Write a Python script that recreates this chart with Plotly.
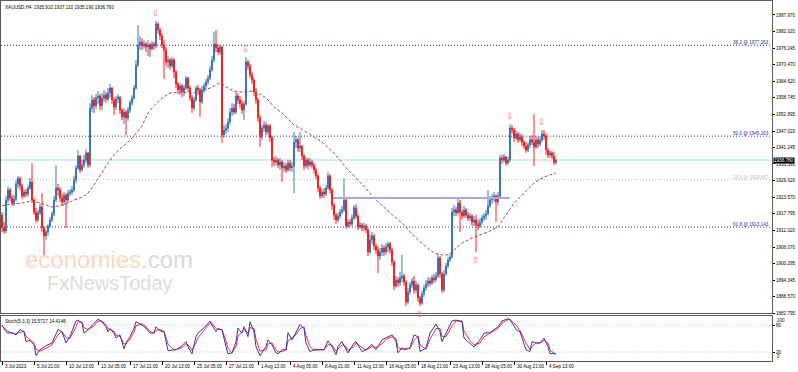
import plotly.graph_objects as go

# ---------------- data ----------------
symbol_header = "XAUUSD,H4  1935.910 1937.110 1935.190 1936.760"
stoch_header = "Stoch(5,3,3) 15.5717 14.4146"

first_open = 1917.4
closes = [
    1912.8, 1911.7, 1922.7, 1926.2, 1923.4, 1921.6, 1923.0, 1928.3, 1930.4, 1927.6, 1924.1, 1925.5, 1924.8, 1926.9, 1929.0, 1922.7,
    1918.4, 1915.6, 1918.1, 1920.2, 1912.8, 1910.0, 1911.4, 1913.5, 1915.6, 1917.7, 1922.7, 1926.9, 1926.2, 1923.4, 1922.0, 1924.4,
    1922.7, 1925.1, 1925.5, 1926.2, 1929.7, 1934.0, 1938.2, 1933.3, 1935.0, 1936.8, 1939.3, 1935.0, 1955.1, 1958.0, 1955.9, 1958.7,
    1959.4, 1955.9, 1958.7, 1959.7, 1958.3, 1960.4, 1962.2, 1958.0, 1955.5, 1958.3, 1959.0, 1954.4, 1952.0, 1953.7, 1951.6, 1954.4,
    1956.9, 1958.7, 1962.2, 1970.3, 1977.4, 1978.4, 1977.0, 1977.7, 1976.7, 1977.4, 1976.0, 1977.7, 1977.0, 1984.8, 1982.7, 1980.6,
    1977.4, 1975.6, 1971.4, 1972.1, 1970.0, 1972.1, 1967.9, 1963.6, 1961.5, 1962.9, 1960.8, 1962.2, 1965.7, 1962.2, 1958.7, 1955.1,
    1958.0, 1962.2, 1961.5, 1957.3, 1961.5, 1962.9, 1964.3, 1965.7, 1968.6, 1972.1, 1977.7, 1976.3, 1974.9, 1976.7, 1945.6, 1947.4,
    1948.1, 1950.2, 1953.7, 1955.1, 1953.7, 1959.4, 1958.0, 1956.6, 1954.4, 1956.6, 1971.4, 1970.0, 1966.8, 1965.0, 1960.8, 1958.0,
    1951.6, 1944.9, 1948.1, 1949.1, 1946.7, 1948.8, 1944.6, 1936.8, 1936.1, 1936.8, 1935.0, 1936.1, 1934.0, 1934.7, 1933.3, 1935.7,
    1934.0, 1934.7, 1943.1, 1943.9, 1941.0, 1941.7, 1938.2, 1934.7, 1936.8, 1935.0, 1936.1, 1935.0, 1933.3, 1931.2, 1926.9, 1924.1,
    1925.5, 1924.8, 1926.9, 1931.2, 1926.2, 1920.9, 1917.4, 1915.6, 1917.0, 1918.4, 1919.2, 1922.7, 1913.5, 1914.9, 1914.2, 1916.3,
    1919.9, 1917.0, 1913.2, 1913.9, 1912.8, 1913.5, 1912.1, 1904.3, 1908.6, 1910.0, 1906.4, 1905.0, 1902.9, 1904.3, 1905.7, 1904.3,
    1906.1, 1907.2, 1905.0, 1900.8, 1892.3, 1894.5, 1893.4, 1895.2, 1895.9, 1893.7, 1886.7, 1890.2, 1892.7, 1894.1, 1890.9, 1892.7,
    1888.1, 1886.3, 1889.5, 1891.6, 1893.0, 1894.1, 1893.4, 1895.2, 1894.5, 1895.9, 1902.2, 1896.6, 1890.9, 1896.6, 1899.4, 1901.5,
    1902.6, 1918.4, 1919.2, 1918.1, 1921.6, 1918.4, 1917.0, 1919.2, 1917.4, 1916.3, 1917.0, 1914.9, 1915.6, 1913.9, 1913.5, 1914.9,
    1916.3, 1917.0, 1917.7, 1920.6, 1922.7, 1923.4, 1924.1, 1922.0, 1924.1, 1937.5, 1936.8, 1937.9, 1935.7, 1936.8, 1948.1, 1947.4,
    1944.6, 1946.0, 1943.9, 1944.9, 1943.1, 1941.7, 1940.3, 1942.1, 1943.9, 1943.1, 1941.4, 1943.9, 1942.4, 1943.9, 1946.0, 1945.3,
    1940.3, 1938.6, 1939.3, 1938.2, 1935.91, 1936.76,
]
highs = [
    1918.4, 1914.9, 1924.1, 1927.6, 1926.9, 1924.4, 1924.4, 1929.7, 1931.2, 1930.8, 1928.3, 1926.6, 1926.6, 1928.0, 1930.4, 1935.7,
    1923.4, 1919.9, 1919.2, 1921.3, 1925.1, 1913.5, 1912.1, 1914.2, 1916.7, 1918.8, 1924.1, 1935.0, 1928.3, 1927.3, 1925.1, 1925.5,
    1925.1, 1926.2, 1926.6, 1927.6, 1931.2, 1935.0, 1940.3, 1938.6, 1936.8, 1938.6, 1940.7, 1939.6, 1956.9, 1959.7, 1959.0, 1960.1,
    1961.1, 1960.1, 1960.4, 1961.5, 1960.8, 1962.2, 1963.6, 1962.6, 1959.0, 1959.4, 1960.1, 1959.4, 1955.1, 1955.1, 1954.4, 1955.5,
    1958.0, 1959.7, 1963.3, 1972.1, 1984.4, 1980.6, 1979.8, 1979.1, 1978.4, 1979.1, 1978.1, 1978.8, 1978.4, 1985.9, 1985.5, 1983.4,
    1981.6, 1979.1, 1976.7, 1973.5, 1972.8, 1973.1, 1972.8, 1968.6, 1964.3, 1964.0, 1963.6, 1963.3, 1966.4, 1966.1, 1962.9, 1959.7,
    1959.0, 1962.9, 1963.3, 1962.2, 1962.9, 1964.0, 1965.4, 1966.8, 1970.0, 1973.5, 1982.0, 1982.7, 1977.7, 1977.4, 1977.0, 1949.1,
    1949.5, 1951.6, 1955.1, 1956.9, 1956.6, 1960.8, 1960.4, 1959.4, 1958.0, 1957.6, 1973.1, 1972.1, 1970.7, 1967.9, 1965.7, 1962.2,
    1958.7, 1952.7, 1949.1, 1950.6, 1950.2, 1949.5, 1949.5, 1945.3, 1937.9, 1938.2, 1937.5, 1937.5, 1936.8, 1936.1, 1935.7, 1936.8,
    1936.8, 1936.1, 1946.7, 1945.3, 1944.6, 1946.7, 1942.1, 1938.9, 1937.9, 1937.5, 1937.5, 1936.8, 1935.7, 1934.0, 1931.9, 1927.6,
    1926.6, 1926.9, 1928.0, 1932.6, 1931.9, 1926.9, 1921.6, 1918.1, 1918.1, 1919.5, 1920.6, 1930.4, 1923.4, 1916.0, 1916.0, 1917.4,
    1920.9, 1921.3, 1917.7, 1914.9, 1914.6, 1914.6, 1914.2, 1912.8, 1910.7, 1911.4, 1910.7, 1907.2, 1906.4, 1905.7, 1907.2, 1906.8,
    1907.5, 1907.9, 1907.9, 1905.7, 1901.5, 1895.9, 1895.5, 1897.3, 1903.3, 1896.6, 1894.5, 1891.6, 1893.7, 1895.2, 1895.9, 1894.1,
    1893.4, 1888.8, 1890.6, 1892.7, 1894.5, 1895.5, 1895.2, 1896.2, 1896.6, 1897.3, 1903.6, 1902.9, 1897.3, 1898.0, 1900.5, 1902.6,
    1903.6, 1919.9, 1920.9, 1920.2, 1923.4, 1922.7, 1919.2, 1920.6, 1919.9, 1918.4, 1918.1, 1917.7, 1917.0, 1917.4, 1915.6, 1916.3,
    1917.4, 1918.1, 1919.2, 1926.2, 1924.1, 1924.8, 1925.5, 1924.8, 1925.5, 1938.6, 1938.6, 1938.9, 1938.2, 1937.9, 1949.5, 1949.1,
    1948.1, 1947.4, 1946.7, 1946.3, 1946.0, 1943.9, 1943.1, 1943.1, 1945.3, 1945.6, 1953.0, 1945.3, 1944.9, 1945.3, 1947.4, 1947.4,
    1946.0, 1941.0, 1940.3, 1940.0, 1939.6, 1937.11,
]
lows = [
    1911.4, 1910.7, 1911.0, 1921.6, 1922.3, 1920.6, 1920.6, 1922.3, 1926.9, 1926.2, 1923.0, 1923.4, 1923.7, 1923.7, 1926.2, 1921.6,
    1917.4, 1914.6, 1914.9, 1917.4, 1911.4, 1903.3, 1908.6, 1910.0, 1912.8, 1914.9, 1917.0, 1922.0, 1924.1, 1922.0, 1920.9, 1920.9,
    1912.8, 1921.6, 1924.1, 1924.4, 1925.5, 1928.7, 1933.3, 1932.2, 1932.6, 1934.0, 1935.7, 1934.0, 1934.3, 1953.7, 1953.4, 1954.8,
    1956.6, 1954.4, 1954.4, 1957.3, 1956.9, 1957.6, 1958.7, 1956.6, 1952.7, 1954.4, 1956.9, 1953.0, 1950.9, 1949.5, 1945.6, 1950.6,
    1953.4, 1955.9, 1958.0, 1961.5, 1969.6, 1975.6, 1975.6, 1976.0, 1974.9, 1973.5, 1973.1, 1975.6, 1975.6, 1976.3, 1981.3, 1979.1,
    1976.3, 1965.4, 1970.0, 1969.3, 1968.6, 1969.3, 1965.7, 1962.2, 1960.1, 1959.7, 1959.0, 1959.4, 1961.5, 1960.8, 1957.6, 1953.4,
    1954.4, 1957.3, 1959.7, 1952.0, 1956.6, 1960.4, 1961.5, 1963.3, 1965.0, 1967.9, 1971.4, 1974.9, 1973.9, 1973.9, 1942.8, 1944.6,
    1946.0, 1946.7, 1949.1, 1952.3, 1952.7, 1953.0, 1956.6, 1955.1, 1953.0, 1950.9, 1955.9, 1968.6, 1965.7, 1963.6, 1959.4, 1956.6,
    1950.2, 1941.4, 1943.9, 1946.7, 1945.6, 1945.6, 1943.1, 1934.3, 1934.7, 1935.0, 1934.0, 1933.3, 1929.0, 1932.6, 1932.2, 1932.6,
    1932.9, 1932.6, 1925.1, 1941.0, 1939.6, 1939.6, 1936.8, 1933.3, 1934.0, 1933.6, 1934.3, 1934.0, 1931.9, 1930.1, 1925.5, 1923.0,
    1923.4, 1923.4, 1924.1, 1926.2, 1924.8, 1919.2, 1915.6, 1914.2, 1914.9, 1916.0, 1917.7, 1918.4, 1912.5, 1912.8, 1913.2, 1913.5,
    1915.6, 1916.0, 1912.1, 1912.5, 1911.7, 1911.7, 1911.0, 1902.9, 1903.6, 1907.2, 1905.0, 1903.6, 1896.9, 1901.5, 1902.9, 1902.9,
    1903.3, 1904.3, 1903.6, 1899.4, 1890.9, 1891.6, 1892.0, 1892.3, 1893.7, 1892.3, 1885.3, 1886.0, 1889.2, 1891.6, 1889.5, 1889.9,
    1886.7, 1885.3, 1885.6, 1888.5, 1890.6, 1892.0, 1892.3, 1892.7, 1893.4, 1893.7, 1895.2, 1895.2, 1889.9, 1890.2, 1895.9, 1898.7,
    1900.8, 1901.9, 1917.0, 1917.0, 1917.7, 1911.4, 1915.6, 1916.3, 1916.3, 1915.3, 1915.3, 1913.5, 1913.5, 1904.3, 1912.1, 1912.8,
    1913.9, 1915.3, 1915.6, 1917.4, 1919.9, 1921.3, 1922.0, 1914.9, 1920.9, 1923.4, 1935.4, 1936.1, 1934.7, 1935.0, 1936.1, 1946.0,
    1943.1, 1943.9, 1942.8, 1943.1, 1941.7, 1940.7, 1939.3, 1939.6, 1941.0, 1942.1, 1934.7, 1940.7, 1941.0, 1941.7, 1943.1, 1943.9,
    1938.6, 1937.5, 1937.5, 1937.1, 1935.0, 1935.19,
]
opens = [first_open] + closes[:-1]

# moving average, by bar index
ma_idx = [0, 5, 10, 15, 19, 25, 31, 36, 40, 43, 46, 50, 53, 56, 60, 63, 66, 70, 73, 76, 80, 84, 90, 95, 100,
          104, 107, 109, 113, 116, 120, 126, 130, 133, 136, 140, 146, 153, 160, 166, 173, 180, 186, 193, 200,
          206, 212, 216, 220, 223, 226, 230, 236, 243, 248, 251, 256, 261, 266, 271, 276, 277]
ma_val = [1920.6, 1921.3, 1921.6, 1922.3, 1921.6, 1920.2, 1920.9, 1922.7, 1923.7, 1925.1, 1928.0, 1932.6, 1935.7,
          1938.6, 1941.4, 1943.1, 1945.3, 1948.8, 1953.4, 1955.9, 1958.7, 1960.4, 1960.8, 1960.4, 1961.1, 1962.2,
          1963.3, 1964.0, 1962.2, 1961.1, 1960.8, 1961.1, 1959.7, 1958.0, 1955.5, 1953.4, 1949.1, 1946.3, 1943.1,
          1939.3, 1933.3, 1928.3, 1923.4, 1918.8, 1914.6, 1910.0, 1906.1, 1904.0, 1903.3, 1903.3, 1905.0, 1907.5,
          1909.6, 1911.4, 1913.2, 1916.3, 1921.6, 1925.1, 1928.7, 1930.8, 1931.9, 1932.2]

# stochastic oscillator (5,3,3)
st_idx = [0, 2, 3, 5, 7, 9, 11, 12, 14, 16, 17, 19, 22, 25, 28, 30, 32, 34, 37, 38, 40, 41, 43, 46, 48, 50, 52, 53,
          54, 56, 57, 59, 61, 62, 64, 66, 67, 70, 72, 74, 76, 77, 79, 81, 83, 85, 87, 90, 92, 93, 95, 97, 98, 102,
          104, 105, 107, 108, 110, 112, 113, 115, 117, 118, 120, 121, 123, 124, 126, 127, 129, 132, 133, 135, 137,
          138, 140, 142, 143, 145, 147, 149, 151, 152, 154, 156, 158, 161, 163, 165, 167, 168, 170, 172, 173, 176,
          177, 180, 182, 185, 187, 190, 192, 195, 197, 198, 200, 201, 204, 206, 208, 209, 212, 214, 217, 219, 220,
          222, 225, 227, 230, 231, 234, 236, 239, 241, 244, 248, 250, 253, 254, 257, 259, 262, 264, 265, 267, 269,
          271, 273, 274, 276, 277]
st_k = [80, 65, 62, 63, 58, 70, 65, 43, 46, 36, 12, 25, 34, 40, 70, 65, 40, 55, 89, 91, 84, 62, 69, 84, 93, 87, 76, 65,
        72, 62, 51, 58, 27, 40, 54, 73, 87, 80, 73, 62, 62, 76, 67, 65, 23, 24, 25, 34, 43, 32, 16, 54, 62, 78,
        89, 80, 65, 72, 69, 32, 16, 18, 42, 73, 62, 76, 54, 87, 65, 32, 12, 32, 47, 36, 18,
        16, 25, 25, 63, 47, 65, 81, 72, 40, 21, 25, 26, 25, 45, 32, 14, 32, 43, 25, 18, 40,
        43, 21, 25, 37, 25, 47, 51, 58, 43, 18, 30, 25, 29, 58, 54, 21, 29, 62, 82, 65, 43,
        62, 89, 91, 87, 51, 40, 31, 47, 62, 63, 76, 89, 94, 92, 70, 65, 25, 21, 43, 40, 40,
        51, 32, 16, 17, 15.57]
st_d = [78, 70, 66, 62, 60, 64, 66, 55, 48, 40, 26, 22, 28, 36, 58, 66, 52, 50, 76, 86, 87, 74, 70, 78, 89, 89, 80, 72,
        70, 66, 57, 55, 38, 38, 48, 64, 78, 83, 76, 66, 62, 68, 70, 66, 38, 28, 25, 30, 38, 36, 24, 40, 52, 72,
        84, 84, 72, 70, 70, 45, 28, 18, 32, 55, 66, 70, 62, 74, 72, 48, 22, 25, 38, 40, 26,
        20, 21, 24, 45, 52, 58, 72, 76, 56, 32, 24, 25, 25, 36, 36, 22, 26, 36, 32, 24, 32,
        40, 30, 24, 32, 30, 38, 48, 54, 50, 30, 26, 27, 28, 45, 55, 36, 26, 48, 72, 72, 55,
        54, 78, 89, 89, 66, 46, 36, 40, 54, 62, 72, 84, 92, 92, 80, 68, 40, 26, 32, 40, 40,
        46, 40, 24, 17, 14.41]
st_levels = [20, 80]

# Fibonacci retracement levels
fib_names = ["38.2", "50.0", "23.6", "61.8"]
fib_values = [1977.263, 1945.203, 1929.887, 1913.143]
fib_colors = ["#2a2a9c", "#2a2a9c", "#bdbdbd", "#2a2a9c"]

# horizontal trend segment (bar index start/end, price)
seg_start, seg_end, seg_price = 165.5, 254, 1923.4

# fractals
frac_up_idx = [77, 122, 254, 270]
frac_dn_idx = [209, 237]

# axis ticks
price_ticks = [1987.970, 1982.020, 1976.245, 1970.470, 1964.620, 1958.745, 1952.895, 1947.020, 1941.245,
               1935.395, 1929.620, 1923.570, 1917.795, 1912.020, 1906.070, 1900.295, 1894.345, 1888.570, 1882.795]
date_idx = [0, 16, 32, 48, 64, 80, 96, 112, 128, 144, 160, 176, 192, 208, 224, 240, 256, 272]
date_labels = ["3 Jul 2023", "5 Jul 21:00", "10 Jul 13:00", "13 Jul 05:00", "17 Jul 21:00", "20 Jul 13:00",
               "25 Jul 05:00", "27 Jul 21:00", "1 Aug 13:00", "4 Aug 05:00", "8 Aug 21:00", "11 Aug 13:00",
               "16 Aug 05:00", "18 Aug 21:00", "23 Aug 13:00", "28 Aug 05:00", "30 Aug 21:00", "4 Sep 13:00"]
last_price = closes[-1]

# ---------------- figure ----------------
FONT = "Liberation Sans"
SMALL = 4.6
UP = "#3a76b6"
DN = "#ff1c1c"
bars = list(range(len(closes)))

fig = go.Figure()
fig.add_trace(go.Candlestick(
    x=bars, open=opens, high=highs, low=lows, close=closes,
    increasing=dict(line=dict(color=UP, width=1), fillcolor=UP),
    decreasing=dict(line=dict(color=DN, width=1), fillcolor=DN),
    whiskerwidth=0, xaxis="x", yaxis="y", hoverinfo="skip"))
fig.add_trace(go.Scatter(x=ma_idx, y=ma_val, mode="lines", xaxis="x", yaxis="y",
                         line=dict(color="#a8453c", width=1, dash="3px,2px"), hoverinfo="skip"))
fig.add_trace(go.Scatter(x=st_idx, y=st_d, mode="lines", xaxis="x2", yaxis="y2",
                         line=dict(color="#ff2a2a", width=1), hoverinfo="skip"))
fig.add_trace(go.Scatter(x=st_idx, y=st_k, mode="lines", xaxis="x2", yaxis="y2",
                         line=dict(color="#3535a8", width=1), hoverinfo="skip"))

shapes = []
shapes.append(dict(type="line", xref="paper", x0=0, x1=1, yref="y", y0=last_price, y1=last_price,
                   line=dict(color="#d5ebf4", width=2), layer="below"))
for v, c in zip(fib_values, fib_colors):
    shapes.append(dict(type="line", xref="paper", x0=0, x1=1, yref="y", y0=v, y1=v,
                       line=dict(color=c, width=1, dash="1px,2px"), layer="below"))
shapes.append(dict(type="line", xref="x", x0=seg_start, x1=seg_end, yref="y", y0=seg_price, y1=seg_price,
                   line=dict(color="#a9a9dc", width=2), layer="above"))
for lv in st_levels:
    shapes.append(dict(type="line", xref="paper", x0=0, x1=1, yref="y2", y0=lv, y1=lv,
                       line=dict(color="#c4c4c4", width=1, dash="1px,2px"), layer="below"))

ann = []
ann.append(dict(xref="paper", yref="paper", x=0, y=1, xanchor="left", yanchor="top", xshift=2, yshift=-2,
                text=symbol_header, showarrow=False, font=dict(family=FONT, size=SMALL, color="#000")))
ann.append(dict(xref="paper", yref="y2", x=0, y=100, xanchor="left", yanchor="top", xshift=2, yshift=-1,
                text=stoch_header, showarrow=False, font=dict(family=FONT, size=SMALL, color="#000")))
for nm, v, c in zip(fib_names, fib_values, fib_colors):
    ann.append(dict(xref="paper", yref="y", x=1, y=v, xanchor="right", yanchor="bottom", xshift=-1, yshift=-2,
                    text=f"{nm} @ {v:.3f}", showarrow=False, font=dict(family=FONT, size=SMALL, color=c)))
ann.append(dict(xref="paper", yref="y", x=1, y=last_price, xanchor="left", yanchor="middle", xshift=1,
                text=f"{last_price:.3f}", showarrow=False, bgcolor="#000", borderpad=0,
                font=dict(family=FONT, size=SMALL, color="#fff")))
ann.append(dict(xref="paper", yref="y2", x=1, y=100, xanchor="left", yanchor="top", xshift=3,
                text="100", showarrow=False, font=dict(family=FONT, size=SMALL, color="#000")))
ann.append(dict(xref="paper", yref="y2", x=1, y=0, xanchor="left", yanchor="bottom", xshift=3,
                text="0", showarrow=False, font=dict(family=FONT, size=SMALL, color="#000")))
for i, t in zip(date_idx, date_labels):
    ann.append(dict(xref="x2", yref="paper", x=i, y=0, xanchor="left", yanchor="top", xshift=1, yshift=-1,
                    text=t, showarrow=False, font=dict(family=FONT, size=SMALL, color="#000")))
for i in frac_up_idx:
    ann.append(dict(xref="x", yref="y", x=i, y=highs[i], xanchor="center", yanchor="bottom", yshift=1,
                    text="⇩", showarrow=False, font=dict(family="DejaVu Sans", size=9, color="#f07a6e")))
for i in frac_dn_idx:
    ann.append(dict(xref="x", yref="y", x=i, y=lows[i], xanchor="center", yanchor="top", yshift=-1,
                    text="⇧", showarrow=False, font=dict(family="DejaVu Sans", size=9, color="#f07a6e")))
# watermark
ann.append(dict(xref="paper", yref="paper", x=0.028, y=0.281, xanchor="left", yanchor="middle",
                text="<span style='color:#fdd6bf'>economies</span><span style='color:#d9d9d9'>.com</span>",
                showarrow=False, font=dict(family=FONT, size=24)))
ann.append(dict(xref="paper", yref="paper", x=0.057, y=0.217, xanchor="left", yanchor="middle",
                text="<span style='color:#dcdcdc'>F</span><span style='color:#cfe3c8'>x</span><span style='color:#dcdcdc'>NewsToday</span>",
                showarrow=False, font=dict(family=FONT, size=20)))

fig.update_layout(
    width=798, height=372, margin=dict(l=1, r=26, t=1, b=11),
    paper_bgcolor="#fff", plot_bgcolor="#fff", showlegend=False,
    shapes=shapes, annotations=ann,
    xaxis=dict(domain=[0, 1], anchor="y", range=[-0.5, 385], showgrid=False, zeroline=False,
               showline=True, mirror=True, linecolor="#5a5a5a", linewidth=1,
               showticklabels=False, ticks="", rangeslider=dict(visible=False)),
    yaxis=dict(domain=[0.1333, 1], anchor="x", range=[1882.8, 1992.9], side="right",
               tickvals=price_ticks, ticktext=[f"{v:.3f}" for v in price_ticks],
               ticks="outside", ticklen=2, tickcolor="#000", tickfont=dict(family=FONT, size=SMALL, color="#000"),
               showgrid=False, zeroline=False, showline=True, mirror=True, linecolor="#5a5a5a", linewidth=1),
    xaxis2=dict(domain=[0, 1], anchor="y2", matches="x", showgrid=False, zeroline=False,
                showline=True, mirror=True, linecolor="#5a5a5a", linewidth=1,
                tickvals=date_idx, ticks="outside", ticklen=3, tickcolor="#000", showticklabels=False),
    yaxis2=dict(domain=[0, 0.125], anchor="x2", range=[0, 100], side="right",
                tickvals=st_levels, ticktext=[str(v) for v in st_levels],
                ticks="outside", ticklen=2, tickcolor="#000", tickfont=dict(family=FONT, size=SMALL, color="#000"),
                showgrid=False, zeroline=False, showline=True, mirror=True, linecolor="#5a5a5a", linewidth=1),
)

fig.write_html("out.html", config={"displayModeBar": False, "staticPlot": True},
               post_script="document.body.style.margin='0';document.body.style.overflow='hidden';")
